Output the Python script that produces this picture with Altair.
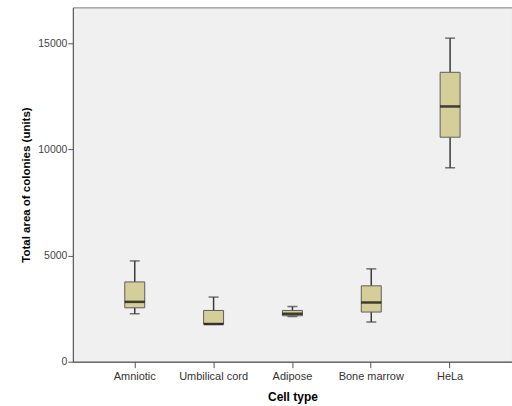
import altair as alt
import pandas as pd

cells = ["Amniotic", "Umbilical cord", "Adipose", "Bone marrow", "HeLa"]
whisker_low = [2260, 1775, 2130, 1870, 9140]
q1 = [2540, 1775, 2165, 2340, 10580]
median = [2820, 1775, 2260, 2790, 12030]
q3 = [3760, 2415, 2415, 3575, 13640]
whisker_high = [4750, 3045, 2600, 4375, 15250]

df = pd.DataFrame({"cell": cells, "lo": whisker_low, "q1": q1, "med": median,
                   "q3": q3, "hi": whisker_high})

x = alt.X("cell:N", sort=cells, title="Cell type",
          scale=alt.Scale(paddingInner=0, paddingOuter=0.285),
          axis=alt.Axis(labelAngle=0, labelFont="Liberation Sans", labelFontSize=11,
                        labelColor="#333333", titleFont="Liberation Sans", titleFontSize=12,
                        titleFontWeight="bold", titleColor="#000000", domainColor="#555555",
                        tickColor="#555555", tickSize=6, labelPadding=3, titlePadding=10))
yscale = alt.Scale(domain=[0, 16700], nice=False, zero=True)
yaxis = alt.Axis(values=[0, 5000, 10000, 15000], grid=False, format="d",
                 labelFont="Liberation Sans", labelFontSize=10.5, labelColor="#444444",
                 titleFont="Liberation Sans", titleFontSize=11.5, titleFontWeight="bold",
                 titleColor="#000000", domainColor="#555555", tickColor="#555555",
                 tickSize=5, labelPadding=1, titlePadding=6)

base = alt.Chart(df)

whisk_up = base.mark_rule(color="#3a3a3a", strokeWidth=1.5).encode(
    x=x, y=alt.Y("q3:Q", scale=yscale, axis=yaxis, title="Total area of colonies (units)"),
    y2="hi:Q")
whisk_dn = base.mark_rule(color="#3a3a3a", strokeWidth=1.5).encode(
    x=x, y=alt.Y("lo:Q", scale=yscale), y2="q1:Q")
box = base.mark_bar(size=20, fill="#d4cf98", stroke="#5c5c5c", strokeWidth=1).encode(
    x=x, y=alt.Y("q1:Q", scale=yscale), y2="q3:Q")
med = base.mark_tick(size=20, thickness=2.5, color="#000000").encode(
    x=x, y=alt.Y("med:Q", scale=yscale))
cap_hi = base.mark_tick(size=10, thickness=1.5, color="#3a3a3a").encode(
    x=x, y=alt.Y("hi:Q", scale=yscale))
cap_lo = base.mark_tick(size=10, thickness=1.5, color="#3a3a3a").encode(
    x=x, y=alt.Y("lo:Q", scale=yscale))

chart = alt.layer(whisk_up, whisk_dn, box, med, cap_hi, cap_lo).properties(
    width=440, height=355,
    autosize=alt.AutoSizeParams(type="none"),
    padding={"left": 73, "top": 7, "right": 0, "bottom": 44},
    background="#ffffff",
).configure_view(fill="#f0f0f0", stroke="#777777", strokeWidth=1)

chart.save("out.html", embed_options={"renderer": "svg", "actions": False})
